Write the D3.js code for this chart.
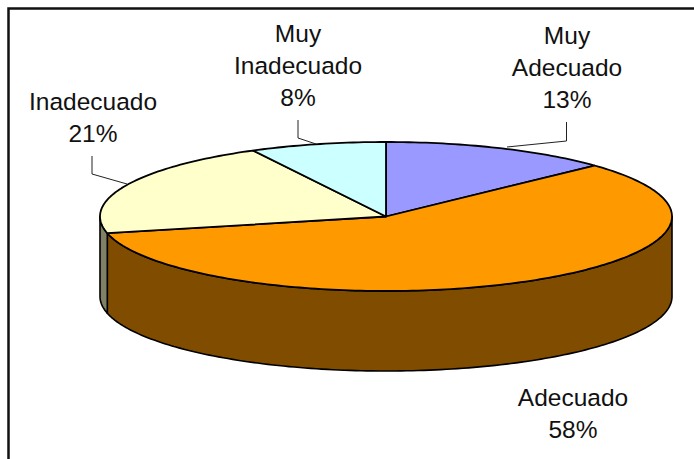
<!DOCTYPE html>
<html><head><meta charset="utf-8">
<script src="https://cdn.jsdelivr.net/npm/d3@7"></script>
<style>html,body{margin:0;padding:0;background:#fff}svg{display:block}text{font-family:"Liberation Sans",Arial,sans-serif;font-size:24.5px;fill:#111}</style>
</head><body><script>
const categories = ["Muy Adecuado","Adecuado","Inadecuado","Muy Inadecuado"];
const values = [13,58.4,20.9,7.7];
const topColors = ["#9999FF","#FF9900","#FFFFCC","#CCFFFF"];
const sideColors = ["#4D4D80","#804D00","#808066","#668080"];
const labelLines = [["Muy","Adecuado","13%"],["Adecuado","58%"],["Inadecuado","21%"],["Muy","Inadecuado","8%"]];

const W=694,H=459,cx=386,cy=216.5,rx=286,ry=74.5,depth=80;
const labelPos=[[567,44],[573,406],[93,110],[298,42]];
const leaders=[[[566.5,122],[566.5,141],[507,147]],null,[[92,156],[92,174],[127,184]],[[298,120],[298,138],[316,144]]];

const svg=d3.select("body").append("svg").attr("width",W).attr("height",H);
svg.append("rect").attr("x",8.5).attr("y",8.5).attr("width",W+20).attr("height",H+20)
  .attr("fill","#fff").attr("stroke","#111").attr("stroke-width",2.5);

const xS=d3.scaleLinear().domain([-1,1]).range([cx-rx,cx+rx]);
const yS=d3.scaleLinear().domain([-1,1]).range([cy-ry,cy+ry]);
const px=a=>xS(Math.sin(a)), py=a=>yS(-Math.cos(a));
const line=d3.line();
const arcs=d3.pie().sort(null)(values);
const samples=(a,b)=>{const n=Math.max(2,Math.ceil((b-a)/0.02));return d3.range(n+1).map(i=>a+(b-a)*i/n)};

// front wall
const F0=Math.PI/2,F1=Math.PI*1.5;
const walls=svg.append("g");
arcs.forEach((d,i)=>{
  const a=Math.max(d.startAngle,F0),b=Math.min(d.endAngle,F1);
  if(b<=a)return;
  const s=samples(a,b);
  const pts=s.map(t=>[px(t),py(t)]).concat(s.slice().reverse().map(t=>[px(t),py(t)+depth]));
  walls.append("path").attr("d",line(pts)+"Z").attr("fill",sideColors[i])
    .attr("stroke","#000").attr("stroke-width",1.6).attr("stroke-linejoin","round");
});
// top faces
const tops=svg.append("g");
arcs.forEach((d,i)=>{
  const pts=[[cx,cy]].concat(samples(d.startAngle,d.endAngle).map(t=>[px(t),py(t)]));
  tops.append("path").attr("d",line(pts)+"Z").attr("fill",topColors[i])
    .attr("stroke","#000").attr("stroke-width",1.8).attr("stroke-linejoin","round");
});
// leaders
leaders.forEach(l=>{if(l)svg.append("path").attr("d",line(l)).attr("fill","none").attr("stroke","#222").attr("stroke-width",1)});
// labels
labelLines.forEach((ls,i)=>{
  ls.forEach((t,j)=>svg.append("text").attr("x",labelPos[i][0]).attr("y",labelPos[i][1]+j*32)
    .attr("text-anchor","middle").text(t));
});
</script></body></html>
